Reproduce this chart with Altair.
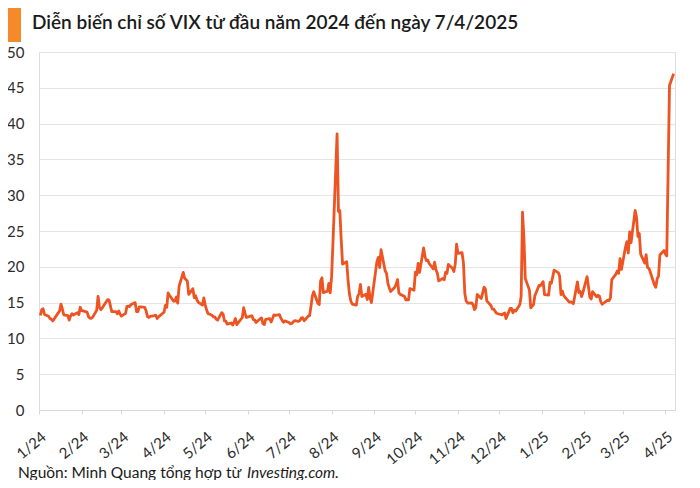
import altair as alt
import pandas as pd

title_text = "Diễn biến chỉ số VIX từ đầu năm 2024 đến ngày 7/4/2025"
source_text = "Nguồn: Minh Quang tổng hợp từ"
source_italic = "Investing.com."

y_ticks = [0, 5, 10, 15, 20, 25, 30, 35, 40, 45, 50]
month_ticks = [(2024, m) for m in range(1, 13)] + [(2025, m) for m in range(1, 5)]

# VIX daily closes: (day, value) per month
vix_2024_01 = [(2, 13.20), (3, 14.04), (4, 14.13), (5, 13.35), (8, 13.08), (9, 12.76), (10, 12.69),
               (11, 12.44), (12, 12.70), (16, 13.84), (17, 14.79), (18, 14.13), (19, 13.30), (22, 13.19),
               (23, 12.55), (24, 13.14), (25, 13.45), (26, 13.26), (29, 13.60), (30, 13.31), (31, 14.35)]
vix_2024_02 = [(1, 13.88), (2, 13.85), (5, 13.67), (6, 13.06), (7, 12.83), (8, 12.79), (9, 12.93),
               (12, 13.93), (13, 15.85), (14, 14.38), (15, 14.01), (16, 14.24), (20, 15.42), (21, 15.34),
               (22, 14.54), (23, 13.75), (26, 13.74), (27, 13.43), (28, 13.84), (29, 13.40)]
vix_2024_03 = [(1, 13.11), (4, 13.49), (5, 14.46), (6, 14.50), (7, 14.44), (8, 14.74), (11, 15.00),
               (12, 13.75), (13, 13.75), (14, 14.40), (15, 14.41), (18, 14.33), (19, 13.82), (20, 13.04),
               (21, 12.92), (22, 13.06), (25, 13.19), (26, 13.24), (27, 12.78), (28, 13.01)]
vix_2024_04 = [(1, 13.65), (2, 14.61), (3, 14.33), (4, 16.35), (5, 16.03), (8, 15.19), (9, 15.22),
               (10, 15.80), (11, 14.91), (12, 17.31), (15, 19.23), (16, 18.40), (17, 18.21), (18, 18.00),
               (19, 16.14), (22, 16.94), (23, 15.69), (24, 15.97), (25, 15.37), (26, 15.03), (29, 14.67),
               (30, 15.65)]
vix_2024_05 = [(1, 14.68), (2, 14.00), (3, 13.49), (6, 13.23), (7, 13.00), (8, 13.00), (9, 12.69),
               (10, 12.55), (13, 13.60), (14, 13.42), (15, 12.45), (16, 12.42), (17, 11.99), (20, 12.15),
               (21, 11.86), (22, 12.29), (23, 12.77), (24, 11.93), (28, 12.92), (29, 14.28), (30, 13.49),
               (31, 12.92)]
vix_2024_06 = [(3, 13.11), (4, 13.16), (5, 12.63), (6, 12.58), (7, 12.22), (10, 12.74), (11, 12.85),
               (12, 12.04), (13, 11.94), (14, 12.66), (17, 12.75), (18, 12.30), (20, 13.28), (21, 13.20),
               (24, 13.33), (25, 12.84), (26, 12.55), (27, 12.24), (28, 12.44)]
vix_2024_07 = [(1, 12.22), (2, 12.03), (3, 12.09), (5, 12.48), (8, 12.37), (9, 12.51), (10, 12.85),
               (11, 12.89), (12, 12.46), (15, 13.12), (16, 13.19), (17, 14.48), (18, 15.93), (19, 16.52),
               (22, 14.91), (23, 14.72), (24, 18.04), (25, 18.46), (26, 16.39), (29, 16.60), (30, 17.69),
               (31, 16.36)]
vix_2024_08 = [(1, 18.59), (2, 23.39), (5, 38.57), (6, 27.71), (7, 27.85), (8, 23.79), (9, 20.37),
               (12, 20.71), (13, 18.12), (14, 16.19), (15, 15.23), (16, 14.80), (19, 14.65), (20, 15.88),
               (21, 16.27), (22, 17.55), (23, 15.86), (26, 16.15), (27, 15.43), (28, 17.11), (29, 15.65),
               (30, 15.00)]
vix_2024_09 = [(3, 20.72), (4, 21.32), (5, 19.90), (6, 22.38), (9, 19.45), (10, 19.08), (11, 17.69),
               (12, 17.07), (13, 16.56), (16, 17.14), (17, 17.61), (18, 18.23), (19, 16.33), (20, 16.15),
               (23, 15.89), (24, 15.39), (25, 15.41), (26, 15.37), (27, 16.96), (30, 16.73)]
vix_2024_10 = [(1, 19.26), (2, 18.90), (3, 20.49), (4, 19.21), (7, 22.64), (8, 21.42), (9, 20.86),
               (10, 20.93), (11, 20.46), (14, 19.70), (15, 20.64), (16, 19.58), (17, 19.11), (18, 18.03),
               (21, 18.37), (22, 18.20), (23, 19.24), (24, 19.08), (25, 20.33), (28, 19.80), (29, 19.34),
               (30, 20.35), (31, 23.16)]
vix_2024_11 = [(1, 21.88), (4, 21.98), (5, 20.49), (6, 16.27), (7, 15.20), (8, 14.94), (11, 14.97),
               (12, 14.71), (13, 14.02), (14, 14.31), (15, 16.14), (18, 15.58), (19, 16.35), (20, 17.16),
               (21, 16.87), (22, 15.24), (25, 14.60), (26, 14.10), (27, 14.10), (29, 13.51)]
vix_2024_12 = [(2, 13.34), (3, 13.30), (4, 13.45), (5, 13.54), (6, 12.77), (9, 14.19), (10, 14.18),
               (11, 13.58), (12, 13.92), (13, 13.81), (16, 14.69), (17, 15.87), (18, 27.62), (19, 24.09),
               (20, 18.36), (23, 16.78), (24, 14.27), (26, 14.73), (27, 15.95), (30, 17.40), (31, 17.35)]
vix_2025_01 = [(2, 17.93), (3, 16.13), (6, 16.04), (7, 17.82), (8, 17.70), (10, 19.54), (13, 19.19),
               (14, 18.71), (15, 16.12), (16, 16.60), (17, 15.97), (21, 15.06), (22, 15.10), (23, 15.02),
               (24, 14.85), (27, 17.90), (28, 16.41), (29, 16.56), (30, 15.84), (31, 16.43)]
vix_2025_02 = [(3, 18.62), (4, 17.21), (5, 15.77), (6, 15.50), (7, 16.54), (10, 15.81), (11, 16.02),
               (12, 15.89), (13, 15.10), (14, 14.77), (18, 15.35), (19, 15.27), (20, 15.66), (21, 18.21),
               (24, 18.98), (25, 19.43), (26, 19.10), (27, 21.13), (28, 19.63)]
vix_2025_03 = [(3, 22.78), (4, 23.51), (5, 21.93), (6, 24.87), (7, 23.37), (10, 27.86), (11, 26.92),
               (12, 24.23), (13, 24.66), (14, 21.77), (17, 20.51), (18, 21.70), (19, 19.90), (20, 19.80),
               (21, 19.28), (24, 17.48), (25, 17.15), (26, 18.33), (27, 18.69), (28, 21.65), (31, 22.28)]
vix_2025_04 = [(1, 21.77), (2, 21.51), (4, 45.31), (7, 46.98)]

months = [
    ("2024-01", vix_2024_01), ("2024-02", vix_2024_02), ("2024-03", vix_2024_03),
    ("2024-04", vix_2024_04), ("2024-05", vix_2024_05), ("2024-06", vix_2024_06),
    ("2024-07", vix_2024_07), ("2024-08", vix_2024_08), ("2024-09", vix_2024_09),
    ("2024-10", vix_2024_10), ("2024-11", vix_2024_11), ("2024-12", vix_2024_12),
    ("2025-01", vix_2025_01), ("2025-02", vix_2025_02), ("2025-03", vix_2025_03),
    ("2025-04", vix_2025_04),
]
rows = [{"date": f"{ym}-{d:02d}", "vix": v} for ym, pts in months for d, v in pts]
df = pd.DataFrame(rows)

FONT = "Lato"
LINE_COLOR = "#EE5322"
TEXT_COLOR = "#2b2b2b"

x_values = [alt.DateTime(year=y, month=m, date=1, utc=True) for y, m in month_ticks]
x_domain = [alt.DateTime(year=2024, month=1, date=1, utc=True),
            alt.DateTime(year=2025, month=4, date=8, utc=True)]

line = alt.Chart(df).mark_line(color=LINE_COLOR, strokeWidth=2.8, strokeJoin="round").encode(
    x=alt.X("date:T", title=None,
            scale=alt.Scale(type="utc", domain=x_domain, nice=False),
            axis=alt.Axis(values=x_values, labelExpr="utcFormat(datum.value, '%-m/%y')",
                          labelAngle=-40, labelAlign="right", labelBaseline="top",
                          labelPadding=15, labelFontSize=15, labelColor=TEXT_COLOR, labelFont=FONT,
                          domainColor="#d9d9d9", tickColor="#d9d9d9", tickSize=4, grid=False,
                          labelOverlap=False, labelFlush=False)),
    y=alt.Y("vix:Q", title=None,
            scale=alt.Scale(domain=[0, 50], nice=False),
            axis=alt.Axis(values=y_ticks, labelFontSize=15, labelColor=TEXT_COLOR, labelFont=FONT,
                          domain=False, ticks=False, labelPadding=15, gridColor="#e4e4e4",
                          gridWidth=1)),
)

title = alt.Chart(pd.DataFrame({"t": [title_text]})).mark_text(
    align="left", baseline="alphabetic", font=FONT, fontSize=19, fontWeight=600, color="#1a1a1a"
).encode(text="t:N", x=alt.value(-7), y=alt.value(-23))

bar = alt.Chart(pd.DataFrame({"a": [0]})).mark_rect(color="#F58A2B").encode(
    x=alt.value(-31), x2=alt.value(-18), y=alt.value(-44), y2=alt.value(-10)
)

source = alt.Chart(pd.DataFrame({"t": [source_text]})).mark_text(
    align="left", baseline="alphabetic", font=FONT, fontSize=15.5, color="#1a1a1a"
).encode(text="t:N", x=alt.value(-21), y=alt.value(426))

source_it = alt.Chart(pd.DataFrame({"t": [source_italic]})).mark_text(
    align="left", baseline="alphabetic", font=FONT, fontSize=15.5, fontStyle="italic", color="#1a1a1a"
).encode(text="t:N", x=alt.value(208), y=alt.value(426))

chart = alt.layer(line, title, bar, source, source_it).properties(
    width=636, height=358,
    autosize=alt.AutoSizeParams(type="none"),
    padding={"left": 31, "top": 44, "right": 17, "bottom": 70},
).configure_view(stroke=None).configure(font=FONT)

chart.save("out.html", embed_options={"renderer": "svg", "actions": False})
